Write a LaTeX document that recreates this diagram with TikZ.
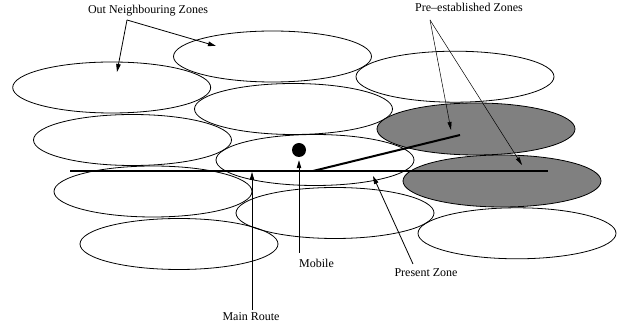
\documentclass[tikz,border=0pt]{standalone}
\usepackage{fontspec}
\setmainfont{Liberation Serif}
\usetikzlibrary{arrows.meta}
\definecolor{zonegray}{HTML}{808080}
\def\zonerx{99pt}
\def\zonery{25.5pt}
\newcommand{\drawzones}{
  \foreach \zx/\zy in {111.7/87.5, 272.5/56.5, 132.5/140, 293.5/109, 455/76.7,
                       315/160, 153/191.5, 335/213, 517/233.3, 179/244} {
    \draw[zoneline] (\zx, \zy) ellipse [x radius=\zonerx, y radius=\zonery];
  }
}

\begin{document}
\begin{tikzpicture}[x=1pt, y=-1pt,
    every node/.style={font=\fontsize{12}{14}\selectfont, inner sep=2pt},
    zoneline/.style={black, line width=0.8pt},
    route/.style={black, line width=2pt},
    pointer/.style={-{Triangle[length=8pt, width=4.5pt]}, line width=0.8pt},
    thinpointer/.style={-{Triangle[length=8pt, width=4pt]}, line width=0.5pt}]
    \useasboundingbox (0,0) rectangle (635,328);
    \drawzones{}
    \fill[zonegray, draw=black, line width=0.8pt] (476, 129) ellipse [x radius=\zonerx, y radius=26pt];
    \fill[zonegray, draw=black, line width=0.8pt] (502, 181) ellipse [x radius=\zonerx, y radius=26pt];

    % route and its branch
    \coordinate (routeW) at (70, 171);
    \coordinate (routeE) at (548, 171);
    \coordinate (branch) at (313, 171);
    \coordinate (branchend) at (460, 135);
    \draw[route] (routeW) -- (routeE);
    \draw[route] (branch) -- (branchend);
    \node[circle, fill=black, inner sep=0, minimum size=14pt] (dot) at (299, 150) {};

    % labels
    \node (outz) at (148, 11) {Out Neighbouring Zones};
    \node (prez) at (469, 7) {Pre--established Zones};
    \node[anchor=north] (mainroute) at (251, 310) {Main Route};
    \node[anchor=north west] (mobile) at (297, 257) {Mobile};
    \node[anchor=north] (present) at (426, 266) {Present Zone};

    \coordinate (outfork) at (127, 20);
    \coordinate (prefork) at (430, 20);
    \coordinate (outtipA) at (117, 72);
    \coordinate (outtipB) at (216, 46);
    \coordinate (pretipA) at (451, 130);
    \coordinate (pretipB) at (522, 165);
    \coordinate (routetip) at (252, 172);
    \coordinate (presenttip) at (373, 176);

    \draw[pointer] (outfork) -- (outtipA);
    \draw[pointer] (outfork) -- (outtipB);
    \draw[thinpointer] (prefork) -- (pretipA);
    \draw[thinpointer] (prefork) -- (pretipB);
    \draw[pointer] (mainroute.north -| routetip) -- (routetip);
    \draw[pointer, shorten >=3pt] (mobile.north west -| dot) ++(0,-4) -- (dot.south);
    \draw[pointer] ([xshift=-13pt, yshift=2pt]present.north) -- (presenttip);
\end{tikzpicture}
\end{document}
